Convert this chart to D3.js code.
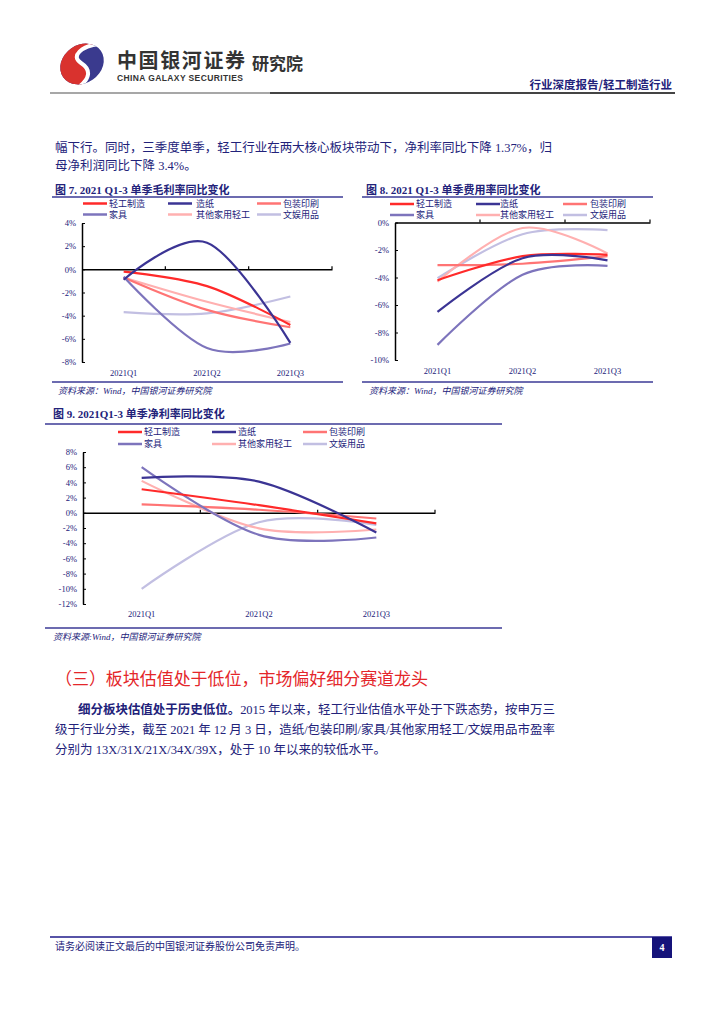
<!DOCTYPE html>
<html>
<head>
<meta charset="utf-8">
<script src="https://cdn.jsdelivr.net/npm/d3@7"></script>
<style>
  body { margin: 0; background: #fff; }
  svg { display: block; }
</style>
</head>
<body>
<div id="page"></div>
<script>
// data
const quarters = ["2021Q1", "2021Q2", "2021Q3"];
const seriesNames = ["轻工制造", "造纸", "包装印刷", "家具", "其他家用轻工", "文娱用品"];
const seriesColors = ["#ff2a2a", "#3b3494", "#ff7474", "#7d74bc", "#ffb0b0", "#c2bfe2"];

// 图7 单季毛利率同比变化 (%)
const grossMargin = [
  [-0.2, -1.45, -4.8],
  [-0.9, 2.3, -6.35],
  [-0.7, -3.5, -5.0],
  [-0.65, -6.8, -6.4],
  [-0.7, -2.8, -4.55],
  [-3.7, -3.8, -2.35]
];
// 图8 单季费用率同比变化 (%)
const expenseRatio = [
  [-4.2, -2.45, -2.35],
  [-6.5, -2.6, -2.75],
  [-3.1, -3.0, -2.45],
  [-8.9, -3.8, -3.15],
  [-4.3, -0.4, -2.25],
  [-4.05, -0.85, -0.55]
];
// 图9 单季净利率同比变化 (%)
const netMargin = [
  [3.1, 1.0, -1.4],
  [4.6, 4.1, -2.6],
  [1.1, 0.4, -0.75],
  [6.0, -2.9, -3.25],
  [4.2, -2.05, -2.2],
  [-10.0, -1.25, -1.6]
];
const ticks7 = [4, 2, 0, -2, -4, -6, -8];
const ticks8 = [0, -2, -4, -6, -8, -10];
const ticks9 = [8, 6, 4, 2, 0, -2, -4, -6, -8, -10, -12];

const NAVY = "#22227a";
const CJK = "'Noto Sans CJK SC', sans-serif";
const SERIF = "'Liberation Serif', 'Noto Sans CJK SC', serif";

const svg = d3.select("#page")
  .append("svg")
  .attr("width", 724)
  .attr("height", 1024)
  .style("background", "#fff");

// ---- header ----
svg.append("clipPath")
  .attr("id", "logo-clip")
  .append("ellipse")
  .attr("cx", 82).attr("cy", 64).attr("rx", 23).attr("ry", 19)
  .attr("transform", "rotate(-35 82 64)");
const logo = svg.append("g").attr("clip-path", "url(#logo-clip)");
logo.append("rect")
  .attr("x", 50).attr("y", 38).attr("width", 64).attr("height", 54)
  .attr("fill", "#3a3a8e");
logo.append("path")
  .attr("d", "M40,30 L99,44 C82,46 70,56 81,63 C92,70 89,79 80,86 L40,100 Z")
  .attr("fill", "#d9322e");
logo.append("path")
  .attr("d", "M99,44 C82,46 70,56 81,63 C92,70 89,79 80,86")
  .attr("fill", "none")
  .attr("stroke", "#fff")
  .attr("stroke-width", 4);

svg.append("text")
  .attr("x", 117).attr("y", 68)
  .attr("font-family", CJK).attr("font-weight", 700).attr("font-size", 20)
  .attr("fill", "#333")
  .attr("textLength", 128)
  .text("中国银河证券");
svg.append("text")
  .attr("x", 117).attr("y", 81)
  .attr("font-family", "'Liberation Sans', Arial, sans-serif").attr("font-weight", 700).attr("font-size", 8.5)
  .attr("fill", "#333")
  .attr("textLength", 126)
  .text("CHINA GALAXY SECURITIES");
svg.append("text")
  .attr("x", 252).attr("y", 70)
  .attr("font-family", CJK).attr("font-weight", 700).attr("font-size", 17)
  .attr("fill", "#333")
  .text("研究院");
svg.append("text")
  .attr("x", 672).attr("y", 89)
  .attr("text-anchor", "end")
  .attr("font-family", CJK).attr("font-weight", 700).attr("font-size", 11.5)
  .attr("fill", NAVY)
  .text("行业深度报告/轻工制造行业");
svg.append("line")
  .attr("x1", 50).attr("x2", 270).attr("y1", 93).attr("y2", 93)
  .attr("stroke", "#8a8a8a").attr("stroke-width", 1.5);
svg.append("line")
  .attr("x1", 270).attr("x2", 675).attr("y1", 93).attr("y2", 93)
  .attr("stroke", "#444").attr("stroke-width", 2);

// ---- body text ----
const bodyText = (x, y, str, len) => {
  const t = svg.append("text")
    .attr("x", x).attr("y", y)
    .attr("font-family", SERIF).attr("font-size", 12.5)
    .attr("fill", NAVY)
    .text(str);
  if (len) t.attr("textLength", len).attr("lengthAdjust", "spacing");
  return t;
};
bodyText(55, 152, "幅下行。同时，三季度单季，轻工行业在两大核心板块带动下，净利率同比下降 1.37%，归", 497);
bodyText(55, 170, "母净利润同比下降 3.4%。");

// ---- charts ----
const drawChart = cfg => {
  const g = svg.append("g");

  g.append("text")
    .attr("x", cfg.titleX).attr("y", cfg.titleY)
    .attr("font-family", SERIF).attr("font-weight", 700).attr("font-size", 11)
    .attr("fill", NAVY)
    .text(cfg.title);

  g.append("line")
    .attr("x1", cfg.frame[0]).attr("x2", cfg.frame[1])
    .attr("y1", cfg.topLine).attr("y2", cfg.topLine)
    .attr("stroke", "#3b3a96").attr("stroke-width", 1.5);
  g.append("line")
    .attr("x1", cfg.frame[0]).attr("x2", cfg.frame[1])
    .attr("y1", cfg.bottomLine).attr("y2", cfg.bottomLine)
    .attr("stroke", "#3b3a96").attr("stroke-width", 1.5);

  g.append("text")
    .attr("x", cfg.sourceX).attr("y", cfg.bottomLine + 12)
    .attr("font-family", SERIF).attr("font-style", "italic").attr("font-size", 9)
    .attr("fill", NAVY)
    .text(cfg.source);

  const x = d3.scaleBand().domain(quarters).range(cfg.xRange);
  const y = d3.scaleLinear().domain(cfg.yDomain).range(cfg.yRange);

  // legend
  const legend = g.selectAll(".lg")
    .data(seriesNames)
    .enter()
    .append("g")
    .attr("transform", (d, i) => `translate(${cfg.legendX[i % 3]},${cfg.legendY[Math.floor(i / 3)]})`);
  legend.append("line")
    .attr("x1", 0).attr("x2", 24)
    .attr("stroke", (d, i) => seriesColors[i])
    .attr("stroke-width", 2.5);
  legend.append("text")
    .attr("x", (d, i) => cfg.legendGap[i % 3]).attr("y", 3.2)
    .attr("font-family", CJK).attr("font-size", 9)
    .attr("fill", NAVY)
    .text(d => d);

  // y axis, ticks inside
  const yAxis = g.append("g")
    .attr("transform", `translate(${cfg.xRange[0]},0)`)
    .call(d3.axisLeft(y).tickValues(cfg.ticks).tickSizeInner(-3).tickSizeOuter(0).tickPadding(6)
      .tickFormat(d => d + "%"));
  yAxis.select(".domain").attr("stroke", "#000").attr("stroke-width", 1.5);
  yAxis.selectAll("line").attr("stroke", "#000");
  yAxis.selectAll("text")
    .attr("font-family", SERIF).attr("font-size", 8.5).attr("fill", NAVY);

  // x axis on the 0% line
  const xAxis = g.append("g")
    .attr("transform", `translate(0,${y(0)})`)
    .call(d3.axisBottom(x).tickSize(0).tickFormat(""));
  xAxis.select(".domain").attr("stroke", "#000").attr("stroke-width", 1.5);
  xAxis.selectAll(".bnd")
    .data(quarters)
    .enter()
    .append("line")
    .attr("x1", d => x(d) + x.bandwidth())
    .attr("x2", d => x(d) + x.bandwidth())
    .attr("y1", 0).attr("y2", -3)
    .attr("stroke", "#000").attr("stroke-width", 1.2);

  g.selectAll(".xl")
    .data(quarters)
    .enter()
    .append("text")
    .attr("x", d => x(d) + x.bandwidth() / 2)
    .attr("y", cfg.xLabelY)
    .attr("text-anchor", "middle")
    .attr("font-family", SERIF).attr("font-size", 8.5).attr("fill", NAVY)
    .text(d => d);

  const line = d3.line()
    .x((d, i) => x(quarters[i]) + x.bandwidth() / 2)
    .y(d => y(d))
    .curve(d3.curveCardinal.tension(0));

  // draw lightest first so dark lines sit on top like the original
  const order = [5, 4, 2, 3, 0, 1];
  g.selectAll(".series")
    .data(order)
    .enter()
    .append("path")
    .attr("d", i => line(cfg.values[i]))
    .attr("fill", "none")
    .attr("stroke", i => seriesColors[i])
    .attr("stroke-width", 2.2);
};

drawChart({
  title: "图 7. 2021 Q1-3 单季毛利率同比变化",
  titleX: 55, titleY: 194,
  frame: [52, 343], topLine: 197, bottomLine: 382,
  source: "资料来源：Wind，中国银河证券研究院", sourceX: 58,
  xRange: [82, 332], yDomain: [-8, 4], yRange: [362, 223], ticks: ticks7,
  xLabelY: 376,
  legendX: [83, 168, 257], legendY: [203.5, 214.5], legendGap: [26, 28, 26],
  values: grossMargin
});

drawChart({
  title: "图 8. 2021 Q1-3 单季费用率同比变化",
  titleX: 366, titleY: 194,
  frame: [362, 653], topLine: 197, bottomLine: 382,
  source: "资料来源：Wind，中国银河证券研究院", sourceX: 369,
  xRange: [395, 650], yDomain: [-10, 0], yRange: [360, 222.5], ticks: ticks8,
  xLabelY: 374,
  legendX: [390, 476, 563], legendY: [204, 215], legendGap: [26, 24, 27],
  values: expenseRatio
});

drawChart({
  title: "图 9. 2021Q1-3 单季净利率同比变化",
  titleX: 53, titleY: 418,
  frame: [45, 502], topLine: 424, bottomLine: 628,
  source: "资料来源:Wind，中国银河证券研究院", sourceX: 53,
  xRange: [83, 435], yDomain: [-12, 8], yRange: [604, 452], ticks: ticks9,
  xLabelY: 617,
  legendX: [118, 212, 303], legendY: [432, 444], legendGap: [26, 26, 26],
  values: netMargin
});

// ---- section ----
svg.append("text")
  .attr("x", 55).attr("y", 685)
  .attr("font-family", CJK).attr("font-size", 17)
  .attr("fill", "#e4262a")
  .attr("textLength", 373)
  .text("（三）板块估值处于低位，市场偏好细分赛道龙头");

const para = svg.append("text")
  .attr("x", 78).attr("y", 714)
  .attr("font-family", SERIF).attr("font-size", 12.5)
  .attr("fill", NAVY)
  .attr("textLength", 477).attr("lengthAdjust", "spacing");
para.append("tspan").attr("font-weight", 700).text("细分板块估值处于历史低位。");
para.append("tspan").text("2015 年以来，轻工行业估值水平处于下跌态势，按申万三");
bodyText(55, 734, "级于行业分类，截至 2021 年 12 月 3 日，造纸/包装印刷/家具/其他家用轻工/文娱用品市盈率", 500);
bodyText(55, 754, "分别为 13X/31X/21X/34X/39X，处于 10 年以来的较低水平。");

// ---- footer ----
svg.append("line")
  .attr("x1", 50).attr("x2", 672).attr("y1", 937).attr("y2", 937)
  .attr("stroke", "#1f1a8a").attr("stroke-width", 1.5);
svg.append("text")
  .attr("x", 55).attr("y", 950)
  .attr("font-family", CJK).attr("font-size", 10)
  .attr("fill", NAVY)
  .text("请务必阅读正文最后的中国银河证券股份公司免责声明。");
svg.append("rect")
  .attr("x", 652).attr("y", 937).attr("width", 20).attr("height", 21)
  .attr("fill", "#15137a");
svg.append("text")
  .attr("x", 662).attr("y", 951)
  .attr("text-anchor", "middle")
  .attr("font-family", SERIF).attr("font-weight", 700).attr("font-size", 10)
  .attr("fill", "#fff")
  .text("4");
</script>
</body>
</html>
